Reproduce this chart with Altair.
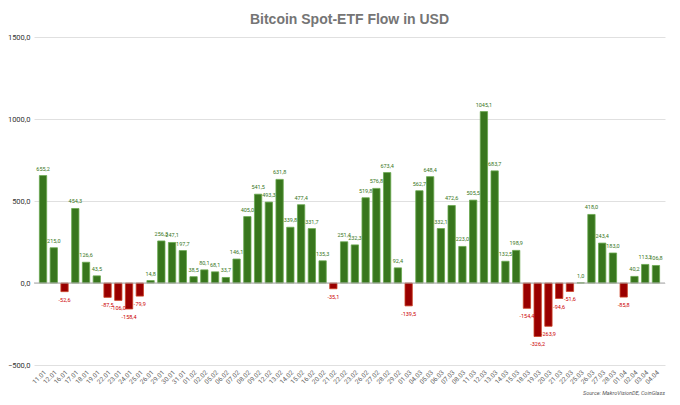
import altair as alt
import pandas as pd

dates = ["11.01","12.01","16.01","17.01","18.01","19.01","22.01","23.01","24.01","25.01",
         "26.01","29.01","30.01","31.01","01.02","02.02","05.02","06.02","07.02","08.02",
         "09.02","12.02","13.02","14.02","15.02","16.02","20.02","21.02","22.02","23.02",
         "26.02","27.02","28.02","29.02","01.03","04.03","05.03","06.03","07.03","08.03",
         "11.03","12.03","13.03","14.03","15.03","18.03","19.03","20.03","21.03","22.03",
         "25.03","26.03","27.03","28.03","01.04","02.04","03.04","04.04"]
flows = [655.2, 215.0, -52.6, 454.3, 126.6, 43.5, -87.5, -106.0, -158.4, -79.9,
         14.8, 256.3, 247.1, 197.7, 38.5, 80.1, 68.1, 33.7, 146.1, 405.0,
         541.5, 493.3, 631.8, 339.8, 477.4, 331.7, 135.3, -35.1, 251.4, 232.3,
         519.8, 576.8, 673.4, 92.4, -139.5, 562.7, 648.4, 332.1, 472.6, 223.0,
         505.5, 1045.1, 683.7, 132.5, 198.9, -154.4, -326.2, -263.9, -94.6, -51.6,
         1.0, 418.0, 243.4, 183.0, -85.8, 40.2, 113.2, 106.8]

df = pd.DataFrame({"date": dates, "flow": flows})
df["label"] = df["flow"].map(lambda v: f"{v:.1f}".replace(".", ","))
df["sign"] = df["flow"].map(lambda v: "pos" if v >= 0 else "neg")

W, H = 631, 328
FONT = "Roboto"

xenc = alt.X("date:N", sort=dates, title=None,
             scale=alt.Scale(paddingInner=0.32, paddingOuter=0.5),
             axis=alt.Axis(labelAngle=-45, labelFontSize=6.5, labelColor="#666666",
                           labelFont=FONT, ticks=False, domain=False, labelPadding=4,
                           labelOverlap=False))
yscale = alt.Scale(domain=[-500, 1500], nice=False)
yenc = alt.Y("flow:Q", title=None, scale=yscale,
             axis=alt.Axis(values=[-500, 0, 500, 1000, 1500], labelFontSize=7.5,
                           labelColor="#333333", labelFont=FONT, ticks=False, domain=False,
                           gridColor="#e0e0e0", labelPadding=4,
                           labelExpr="replace(format(datum.value, '.1f'), '.', ',')"))

base = alt.Chart(df)

bars = base.mark_bar(strokeWidth=0.8).encode(
    x=xenc, y=yenc,
    color=alt.Color("sign:N", scale=alt.Scale(domain=["pos", "neg"], range=["#38761d", "#990000"]), legend=None),
    stroke=alt.Stroke("sign:N", scale=alt.Scale(domain=["pos", "neg"], range=["#6aa84f", "#cc4125"]), legend=None),
)

zero = alt.Chart(pd.DataFrame({"y": [0]})).mark_rule(color="#aaaaaa", strokeWidth=1.2).encode(
    y=alt.Y("y:Q", scale=yscale))

pos_labels = base.transform_filter("datum.flow >= 0").mark_text(
    dy=-7, fontSize=5.5, font=FONT, color="#38761d").encode(
    x=alt.X("date:N", sort=dates), y="flow:Q", text="label:N")
neg_labels = base.transform_filter("datum.flow < 0").mark_text(
    dy=8, fontSize=5.5, font=FONT, color="#cc0000").encode(
    x=alt.X("date:N", sort=dates), y="flow:Q", text="label:N")

source = alt.Chart(pd.DataFrame({"t": ["Source: MakroVisionDE, CoinGlass"]})).mark_text(
    align="right", fontSize=5.5, font=FONT, fontStyle="italic", color="#555555").encode(
    x=alt.value(W), y=alt.value(H + 28), text="t:N")

chart = alt.layer(bars, zero, pos_labels, neg_labels, source).properties(
    width=W, height=H,
    title=alt.TitleParams("Bitcoin Spot-ETF Flow in USD", font="Liberation Sans", fontSize=14,
                          fontWeight="bold", color="#757575", anchor="middle", offset=6),
    autosize=alt.AutoSizeParams(type="none"),
    padding={"left": 26, "top": 29, "right": 7, "bottom": 32},
).configure_view(stroke=None)

chart.save("out.html", embed_options={"renderer": "svg", "actions": False})
